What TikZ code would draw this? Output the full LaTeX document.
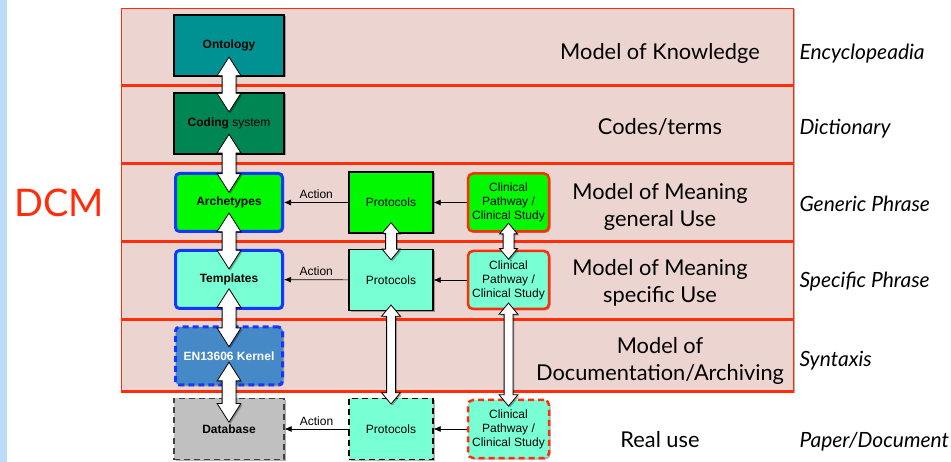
\documentclass[tikz,border=0pt]{standalone}
\usepackage{fontspec}
\setmainfont{Liberation Sans}
\newfontfamily\gillfont{Lato}
\usetikzlibrary{shapes.arrows,shadows,arrows.meta}
\definecolor{bandpink}{RGB}{236,213,209}
\definecolor{bandred}{RGB}{255,45,10}
\definecolor{stripblue}{RGB}{190,218,250}
\definecolor{ontteal}{RGB}{0,146,146}
\definecolor{codgreen}{RGB}{0,134,82}
\definecolor{archgreen}{RGB}{0,248,0}
\definecolor{tplaqua}{RGB}{120,255,212}
\definecolor{kernblue}{RGB}{70,137,199}
\definecolor{edgeblue}{RGB}{20,55,255}
\definecolor{dbgray}{RGB}{192,192,192}
\tikzset{
  boxshadow/.style={drop shadow={shadow xshift=1.5pt, shadow yshift=-1.5pt, opacity=0.3, fill=black}},
  box/.style={draw=black, line width=1.2pt, minimum width=110pt, minimum height=61pt, inner sep=0pt,
    align=center, font=\fontsize{12}{14}\selectfont, boxshadow},
  modelbox/.style={box, rounded corners=4pt, draw=edgeblue, line width=3pt, minimum width=107pt, minimum height=58pt},
  protbox/.style={box, minimum width=84pt},
  clinbox/.style={box, rounded corners=5pt, draw=bandred, line width=2.5pt, minimum width=81pt, minimum height=58pt},
  dashbox/.style={dash pattern=on 6pt off 4pt},
  blockarr/.style={double arrow, draw=black, fill=white, line width=0.8pt, shape border rotate=90, boxshadow},
  bigarr/.style={blockarr, inner sep=6.5pt, minimum width=23pt, double arrow head extend=5pt, double arrow tip angle=65},
  smallarr/.style={blockarr, inner sep=5pt, minimum width=17pt, double arrow head extend=3.5pt, double arrow tip angle=80},
  thinarr/.style={blockarr, inner sep=4pt, minimum width=18pt, double arrow head extend=5pt, double arrow tip angle=80},
  act/.style={-{Latex[length=7pt,width=6pt]}, line width=0.7pt},
  actlabel/.style={above, font=\fontsize{12}{14}\selectfont},
  layer/.style={font=\gillfont\fontsize{21.8}{27}\selectfont, align=center},
  genre/.style={font=\gillfont\itshape\fontsize{21}{24}\selectfont, anchor=base west}
}
\begin{document}
\begin{tikzpicture}[x=1pt,y=-1pt]
\useasboundingbox (0,0) rectangle (951,462);
\fill[stripblue] (0,0) rectangle (7,462);
\node[text=bandred, font=\gillfont\fontsize{38}{40}\selectfont] (dcm) at (59,203) {DCM};

% layers
\draw[fill=bandpink, draw=bandred, line width=0.6pt, boxshadow] (121,8) rectangle (793,392);
\foreach \y in {86,164,242,320,392}
  \draw[bandred, line width=3pt] (121,\y) -- (793,\y);

% left column
\node[box, fill=ontteal] (ont) at (229,45.5) {\textbf{Ontology}};
\node[box, fill=codgreen] (cod) at (229,123.5) {\textbf{Coding} system};
\node[modelbox, fill=archgreen] (arch) at (229,202.5) {\textbf{Archetypes}};
\node[modelbox, fill=tplaqua] (tpl) at (229,279.5) {\textbf{Templates}};
\node[modelbox, dashbox, fill=kernblue, text=white] (kern) at (229,356) {\textbf{EN13606 Kernel}};
\node[box, dashbox, fill=dbgray, draw=black!75] (db) at (229,429) {\textbf{Database}};

% protocols
\node[protbox, fill=archgreen] (prot1) at (391,202.5) {Protocols};
\node[protbox, fill=tplaqua] (prot2) at (391,280) {Protocols};
\node[protbox, dashbox, fill=tplaqua] (prot3) at (391,429) {Protocols};

% clinical
\node[clinbox, fill=archgreen] (clin1) at (508.5,202.5) {Clinical\\Pathway /\\Clinical Study};
\node[clinbox, fill=tplaqua] (clin2) at (508.5,280) {Clinical\\Pathway /\\Clinical Study};
\node[clinbox, dashbox, fill=tplaqua] (clin3) at (508.5,429) {Clinical\\Pathway /\\Clinical Study};

% actions
\draw[act] (prot1) -- node[actlabel] {Action} (arch);
\draw[act] (prot2) -- node[actlabel] {Action} (tpl);
\draw[act] (prot3) -- node[actlabel] {Action} (db);
\draw[act] (clin1) -- (prot1);
\draw[act] (clin2) -- (prot2);
\draw[act] (clin3) -- (prot3);

% block arrows
\path (ont) -- node[bigarr, minimum height=55pt] {} (cod);
\path (cod) -- node[bigarr, minimum height=58pt] {} (arch);
\path (arch) -- node[bigarr, minimum height=56pt] {} (tpl);
\path (tpl) -- node[bigarr, minimum height=58pt] {} (kern);
\path (kern) -- node[bigarr, minimum height=60pt] {} (db);
\path (prot1) -- node[smallarr, minimum height=37pt] {} (prot2);
\path (prot2) -- node[thinarr, minimum height=99pt] {} (prot3);
\path (clin1) -- node[smallarr, minimum height=36pt] {} (clin2);
\path (clin2) -- node[thinarr, minimum height=103pt] {} (clin3);

% layer names
\node[layer, anchor=base] (know) at (660,60) {Model of Knowledge};
\node[layer, anchor=base] (codes) at (660,135) {Codes/terms};
\node[layer] (gen) at (660,206.5) {Model of Meaning\\general Use};
\node[layer] (spec) at (660,283) {Model of Meaning\\specific Use};
\node[layer] (docu) at (660,361) {Model of\\Documentation/Archiving};
\node[layer, anchor=base] (real) at (660,447) {Real use};

% genres
\node[genre] (enc) at (796,60) {Encyclopeadia};
\node[genre] (dict) at (796,135) {Dictionary};
\node[genre] (gphr) at (796,212) {Generic Phrase};
\node[genre] (sphr) at (796,288) {Specific Phrase};
\node[genre] (synt) at (796,367) {Syntaxis};
\node[genre] (paper) at (796,447) {Paper/Document};
\end{tikzpicture}
\end{document}
